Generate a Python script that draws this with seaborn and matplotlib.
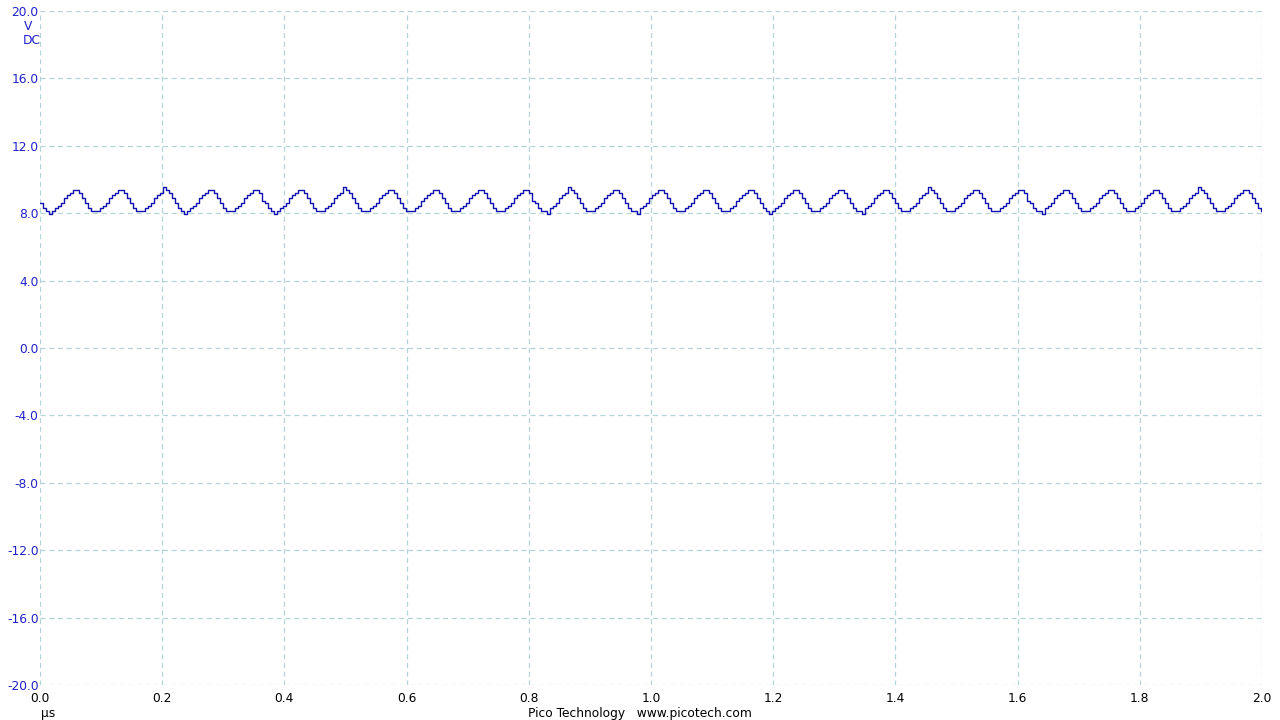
import matplotlib
matplotlib.use("Agg")
import matplotlib.pyplot as plt
import seaborn as sns
import pandas as pd
import numpy as np

# sample interval in microseconds and ADC step in volts
DT = 0.00491
V_BASE = 7.96875
V_STEP = 0.15625

# quantised ADC levels, one string per cycle of the ripple (hex digit = level above V_BASE)
CYCLES = [
    "421012346789986", "421112346789986", "42111234678A986", "421012346789986",
    "421112346789985", "421012346789986", "42111234678A986", "421112346789986",
    "421112356789986", "421112346789986", "421112346789985", "42110234678A986",
    "421112346789986", "421102346789986", "421112346789986", "421112356789986",
    "421012346789986", "421112346789986", "421102346789986", "42111234678A986",
    "421112346789986", "421112346789985", "421102346789986", "421112346789986",
    "421112346789986", "42111234678A986", "421112346789986", "421112346789986",
]

Y_TICKS = [-20.0, -16.0, -12.0, -8.0, -4.0, 0.0, 4.0, 8.0, 12.0, 16.0, 20.0]
X_TICKS = [0.0, 0.2, 0.4, 0.6, 0.8, 1.0, 1.2, 1.4, 1.6, 1.8, 2.0]

levels = [int(c, 16) for cyc in CYCLES for c in cyc]
data = pd.DataFrame({
    "time": np.arange(len(levels)) * DT,
    "volts": [V_BASE + V_STEP * lv for lv in levels],
})

sns.set_style("white")
plt.rcParams["font.family"] = ["DejaVu Sans"]

fig = plt.figure(figsize=(12.8, 7.2), dpi=100)
ax = fig.add_axes([40 / 1280, 1 - 685 / 720, 1222 / 1280, 674 / 720])

sns.lineplot(data=data, x="time", y="volts", ax=ax, color="#1212b0",
             linewidth=1.0, drawstyle="steps-post", estimator=None)

ax.set_xlim(0, 2.0)
ax.set_ylim(-20, 20)
ax.set_xticks(X_TICKS)
ax.set_yticks(Y_TICKS)
ax.set_xticklabels([f"{v:.1f}" for v in X_TICKS], fontsize=8.8, color="black")
ax.set_yticklabels([f"{v:.1f}" for v in Y_TICKS], fontsize=8.8, color="#2020c8")
ax.tick_params(length=0, pad=1)
ax.tick_params(axis="x", pad=5)
ax.set_xlabel("")
ax.set_ylabel("")
ax.grid(True, color="#b6d3da", linestyle=(0, (4, 3)), linewidth=0.9)
ax.set_axisbelow(True)
for s in ax.spines.values():
    s.set_visible(False)

fig.text(28 / 1280, 1 - 26 / 720, "V", fontsize=8.8, color="#2020c8", ha="center", va="center")
fig.text(41 / 1280, 1 - 41 / 720, "DC", fontsize=8.8, color="#2020c8", ha="right", va="center")
fig.text(48 / 1280, 1 - 713 / 720, "µs", fontsize=8.8, color="black", ha="center", va="center")
fig.text(640 / 1280, 1 - 713 / 720, "Pico Technology   www.picotech.com", fontsize=8.8,
         color="black", ha="center", va="center")

fig.savefig("out.png", dpi=100)
plt.close(fig)
